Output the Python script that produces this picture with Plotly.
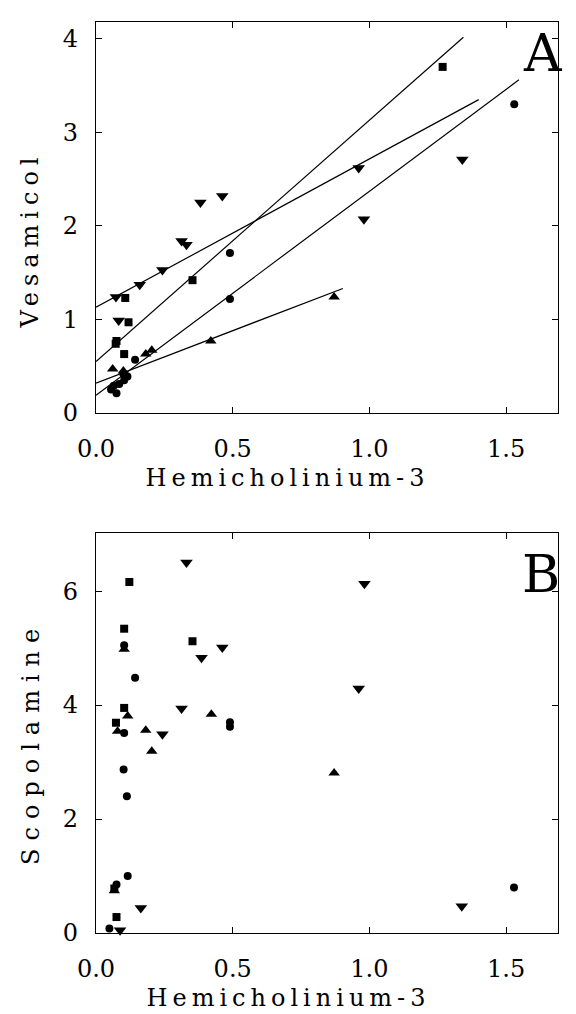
import plotly.graph_objects as go

# ---------------- Panel A: Vesamicol vs Hemicholinium-3 ----------------
tdA_x = [0.073, 0.083, 0.16, 0.243, 0.313, 0.331, 0.382, 0.462, 0.961, 0.98, 1.34]
tdA_y = [1.24, 0.99, 1.37, 1.53, 1.84, 1.80, 2.25, 2.32, 2.62, 2.07, 2.71]

sqA_x = [0.075, 0.103, 0.107, 0.119, 0.353, 1.268, 0.072]
sqA_y = [0.77, 0.63, 1.23, 0.97, 1.42, 3.70, 0.74]

ciA_x = [0.055, 0.065, 0.075, 0.085, 0.103, 0.10, 0.115, 0.143, 0.49, 0.49, 1.53]
ciA_y = [0.25, 0.29, 0.21, 0.31, 0.35, 0.42, 0.39, 0.57, 1.71, 1.22, 3.30]

tuA_x = [0.061, 0.10, 0.182, 0.204, 0.42, 0.871]
tuA_y = [0.47, 0.45, 0.63, 0.67, 0.77, 1.24]

# regression lines (order: down-triangle, square, circle, up-triangle)
line_intercepts = [1.13, 0.55, 0.19, 0.32]
line_slopes = [1.586, 2.58, 2.18, 1.12]
line_x_end = [1.40, 1.344, 1.547, 0.903]

# ---------------- Panel B: Scopolamine vs Hemicholinium-3 ----------------
tdB_x = [0.331, 0.462, 0.386, 0.313, 0.243, 0.164, 0.982, 0.961, 1.338, 0.088]
tdB_y = [6.50, 5.01, 4.83, 3.94, 3.49, 0.44, 6.13, 4.29, 0.47, 0.05]

sqB_x = [0.122, 0.103, 0.353, 0.103, 0.073, 0.075, 0.067]
sqB_y = [6.16, 5.34, 5.12, 3.95, 3.69, 0.28, 0.78]

ciB_x = [0.103, 0.143, 0.49, 0.49, 0.101, 0.113, 0.103, 0.116, 0.075, 1.529, 0.049]
ciB_y = [5.05, 4.48, 3.70, 3.62, 2.87, 2.40, 3.51, 1.00, 0.85, 0.80, 0.08]

tuB_x = [0.103, 0.116, 0.079, 0.182, 0.204, 0.422, 0.871, 0.067]
tuB_y = [4.98, 3.81, 3.54, 3.56, 3.19, 3.84, 2.81, 0.74]

x_tickvals = [0, 0.5, 1.0, 1.5]
x_ticktext = ["0.0", "0.5", "1.0", "1.5"]
yA_tickvals = [0, 1, 2, 3, 4]
yB_tickvals = [0, 2, 4, 6]

FONT = "DejaVu Serif"

fig = go.Figure()


def add_markers(x, y, symbol, size, xa, ya):
    fig.add_trace(go.Scatter(
        x=x, y=y, mode="markers", xaxis=xa, yaxis=ya,
        marker=dict(symbol=symbol, size=size, color="black", line=dict(width=0)),
        showlegend=False, hoverinfo="skip", cliponaxis=False))


# regression lines in panel A
for b, m, xe in zip(line_intercepts, line_slopes, line_x_end):
    fig.add_trace(go.Scatter(
        x=[0, xe], y=[b, b + m * xe], mode="lines", xaxis="x", yaxis="y",
        line=dict(color="black", width=1.2), showlegend=False, hoverinfo="skip"))

add_markers(tdA_x, tdA_y, "triangle-down", 11, "x", "y")
add_markers(sqA_x, sqA_y, "square", 8, "x", "y")
add_markers(ciA_x, ciA_y, "circle", 8, "x", "y")
add_markers(tuA_x, tuA_y, "triangle-up", 10, "x", "y")

add_markers(tdB_x, tdB_y, "triangle-down", 11, "x2", "y2")
add_markers(sqB_x, sqB_y, "square", 8, "x2", "y2")
add_markers(ciB_x, ciB_y, "circle", 8, "x2", "y2")
add_markers(tuB_x, tuB_y, "triangle-up", 10, "x2", "y2")

axis_common = dict(
    showline=True, linecolor="black", linewidth=1.3, mirror="ticks",
    ticks="inside", ticklen=6, tickwidth=1, tickcolor="black",
    showgrid=False, zeroline=False,
    tickfont=dict(family=FONT, size=24, color="black"),
)

fig.update_layout(
    width=576, height=1014,
    margin=dict(l=96, r=18, t=22, b=81, autoexpand=False),
    paper_bgcolor="white", plot_bgcolor="white",
    xaxis=dict(domain=[0, 1], range=[0, 1.69], anchor="y",
               tickvals=x_tickvals, ticktext=x_ticktext, ticklabelstandoff=14, **axis_common),
    yaxis=dict(domain=[0.5708, 1], range=[0, 4.18], anchor="x",
               tickvals=yA_tickvals, ticklabelstandoff=12, **axis_common),
    xaxis2=dict(domain=[0, 1], range=[0, 1.69], anchor="y2",
                tickvals=x_tickvals, ticktext=x_ticktext, ticklabelstandoff=14, **axis_common),
    yaxis2=dict(domain=[0, 0.4391], range=[0, 7.02], anchor="x2",
                tickvals=yB_tickvals, ticklabelstandoff=12, **axis_common),
    annotations=[
        dict(text="Hemicholinium-3", x=0.4145, y=0.4995, xref="paper", yref="paper",
             showarrow=False, xanchor="center", yanchor="middle",
             font=dict(family=FONT, size=24, color="black")),
        dict(text="Hemicholinium-3", x=0.4177, y=-0.0885, xref="paper", yref="paper",
             showarrow=False, xanchor="center", yanchor="bottom",
             font=dict(family=FONT, size=24, color="black")),
        dict(text="Vesamicol", x=-0.1429, y=0.7613, xref="paper", yref="paper",
             showarrow=False, xanchor="center", yanchor="middle", textangle=-90,
             font=dict(family=FONT, size=24, color="black")),
        dict(text="Scopolamine", x=-0.1407, y=0.2086, xref="paper", yref="paper",
             showarrow=False, xanchor="center", yanchor="middle", textangle=-90,
             font=dict(family=FONT, size=24, color="black")),
        dict(text="A", x=0.9675, y=0.966, xref="paper", yref="paper",
             showarrow=False, xanchor="center", yanchor="middle",
             font=dict(family=FONT, size=52, color="black", weight=300)),
        dict(text="B", x=0.963, y=0.394, xref="paper", yref="paper",
             showarrow=False, xanchor="center", yanchor="middle",
             font=dict(family=FONT, size=52, color="black", weight=300)),
    ],
)

post = """
document.body.style.margin = '0';
document.body.style.padding = '0';
document.body.style.overflow = 'hidden';
var gd = document.getElementById('{plot_id}');
var sp = {'Hemicholinium-3': '5px', 'Vesamicol': '6px', 'Scopolamine': '8px'};
gd.querySelectorAll('.annotation-text').forEach(function(t){
  var s = t.textContent;
  if (sp[s]) { t.style.letterSpacing = sp[s]; }
});
"""

fig.write_html("out.html", post_script=post, config={"displayModeBar": False})
